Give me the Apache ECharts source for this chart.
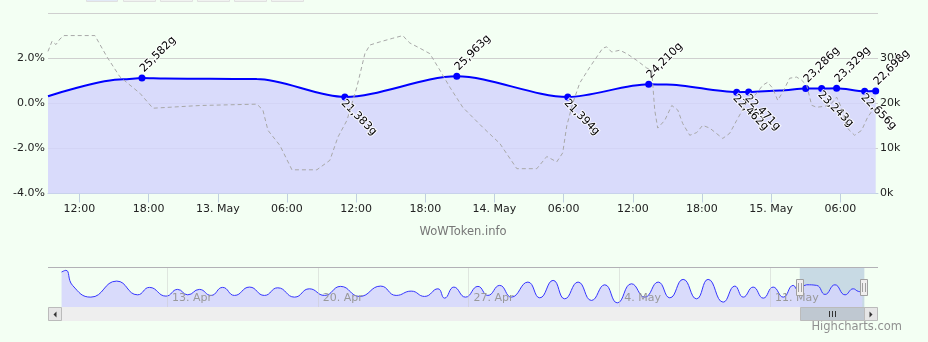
<!DOCTYPE html>
<html>
<head>
<meta charset="utf-8">
<script src="https://cdn.jsdelivr.net/npm/echarts@6/dist/echarts.min.js"></script>
<style>
html,body{margin:0;padding:0;background:#f3fff3;}
#c{width:928px;height:342px;}
</style>
</head>
<body>
<div id="c"></div>
<script>
// ---------------- DATA ----------------
// Main view: hours since 12 May 2016 00:00
const viewStartHour = 9.27;
const viewEndHour = 81.27;
const mainTickHours = [12, 18, 24, 30, 36, 42, 48, 54, 60, 66, 72, 78];

// Token price (gold), right axis
const priceHours  = [9.27, 15.77, 17.42, 19.41, 23.32, 27.39, 35.02, 44.73, 54.36, 61.38, 62.94, 69.01, 70.05, 72.74, 75.00, 76.38, 77.68, 80.11, 81.07];
const priceValues = [21560, 25300, 25582, 25480, 25420, 25350, 21383, 25963, 21394, 24210, 24150, 22462, 22471, 22800, 23286, 23243, 23329, 22656, 22698];
// points carrying a marker + label, and whether the label sits above
const markedIndex = [2, 6, 7, 8, 9, 11, 12, 14, 15, 16, 17, 18];
const labelAbove  = [true, false, true, false, true, false, false, true, false, true, false, true];

// Percent change (%), left axis
const changeHours  = [9.27,9.62,9.96,10.31,10.66,13.34,14.38,15.51,17.25,18.37,22.45,27.39,27.91,28.35,29.39,30.43,32.59,33.72,34.42,35.20,36.06,36.76,37.19,38.06,39.18,40.05,40.40,40.66,41.53,42.39,43.26,44.13,45.25,46.99,48.46,49.94,51.67,52.54,53.40,53.92,54.27,54.79,55.40,56.27,57.39,57.74,58.17,58.87,59.47,60.34,61.21,61.64,61.90,62.16,62.77,63.38,63.90,64.33,64.94,65.54,66.06,66.67,67.80,68.41,69.01,69.88,70.75,71.27,71.70,72.13,72.57,73.00,73.61,74.21,74.65,75.08,75.52,75.95,77.08,77.68,78.20,78.55,79.24,79.85,80.37,80.80,81.24];
const changeValues = [2.3,2.75,2.6,2.85,3.0,3.0,2.06,1.17,0.44,-0.22,-0.1,-0.04,-0.3,-1.2,-1.87,-2.95,-2.95,-2.53,-1.5,-0.76,0.71,2.2,2.58,2.72,2.88,3.0,2.8,2.67,2.44,2.2,1.47,0.71,-0.18,-1.07,-1.78,-2.9,-2.9,-2.36,-2.6,-2.2,-1.0,0.0,0.9,1.6,2.44,2.5,2.27,2.35,2.2,1.9,1.56,1.47,-0.3,-1.1,-0.76,-0.1,-0.3,-0.9,-1.42,-1.3,-0.98,-1.1,-1.56,-1.33,-0.76,0.04,0.44,0.8,0.93,0.67,0.13,0.49,1.11,1.16,1.02,0.8,-0.09,-0.18,-0.1,0.27,-0.31,-1.07,-1.42,-1.2,-0.62,-0.31,-0.2];

// Navigator: days since 11 May 2016 00:00
const navStartDay = -33.53;
const navEndDay = 5.02;
const navTickDays = [-28, -21, -14, -7, 0];
const navDays   = [-32.90,-32.70,-32.39,-31.54,-30.34,-29.37,-28.82,-28.05,-27.51,-27.04,-26.50,-25.96,-25.42,-24.87,-24.17,-23.48,-22.86,-22.08,-21.39,-20.69,-19.94,-19.06,-18.08,-17.36,-16.66,-16.04,-15.42,-15.11,-14.68,-14.14,-13.56,-13.10,-12.55,-12.01,-11.24,-10.69,-10.07,-9.53,-8.91,-8.29,-7.67,-7.09,-6.43,-5.81,-5.19,-4.65,-4.03,-3.41,-2.87,-2.17,-1.63,-1.24,-0.78,-0.31,0.15,0.62,1.08,1.32,1.70,2.17,2.56,3.02,3.49,3.87,4.11,4.29];
const navValues = [32111,32922,25767,20186,27818,21283,24813,20663,23859,21283,23859,20997,24813,20997,24956,20997,24622,20186,24145,20997,25290,20520,25433,20997,23048,20520,24145,19709,24956,20186,25290,20997,25767,20186,27341,19852,28152,19375,27341,18612,26053,17467,26530,20186,27341,19852,28629,19375,28629,17801,25433,20186,24956,19709,24956,20186,25767,23382,26053,25767,21474,26053,21283,24145,22905,22700];

const MONTHS = ['Jan','Feb','Mar','Apr','May','Jun','Jul','Aug','Sep','Oct','Nov','Dec'];

// ---------------- BUILD ----------------
const mainBaseDate = [2016, 4, 12];
const navBaseDate = [2016, 4, 11];
const HOUR = 3600e3, DAY = 24 * HOUR;
const mainBase = new Date(...mainBaseDate).getTime();
const navBase = new Date(...navBaseDate).getTime();
const pad = n => (n < 10 ? '0' : '') + n;
const fmtDate = d => d.getDate() + '. ' + MONTHS[d.getMonth()];
const fmtMain = h => {
  const d = new Date(mainBase + Math.round(h * 60) * 60e3);
  return (d.getHours() === 0 && d.getMinutes() === 0) ? fmtDate(d) : pad(d.getHours()) + ':' + pad(d.getMinutes());
};
const fmtNav = day => fmtDate(new Date(navBase + Math.round(day) * DAY));
const fmtGold = v => String(v).replace(/\B(?=(\d{3})+(?!\d))/g, ',') + 'g';
const mainToNav = h => (mainBase - navBase) / DAY + h / 24;

const FONT = 'DejaVu Sans';
const AREA = { color: 'rgba(212,213,251,0.85)', opacity: 1, origin: 'start' };
const aboveLabel = { show: true, position: 'top', distance: 4, rotate: 45, align: 'left', verticalAlign: 'middle' };
const belowLabel = { show: true, position: 'bottom', distance: 3, rotate: -45, align: 'left', verticalAlign: 'middle', offset: [-3, 0] };

const priceData = priceHours.map((h, i) => {
  const item = { value: [h, priceValues[i]] };
  const k = markedIndex.indexOf(i);
  if (k >= 0) {
    item.symbol = 'circle';
    item.symbolSize = 7;
    item.label = Object.assign({ formatter: fmtGold(priceValues[i]) }, labelAbove[k] ? aboveLabel : belowLabel);
  } else {
    item.symbol = 'none';
  }
  return item;
});
const changeData = changeHours.map((h, i) => [h, changeValues[i]]);
const navData = navDays.map((d, i) => [d, navValues[i]]);

const selStart = mainToNav(viewStartHour), selEnd = mainToNav(viewEndHour);

const chart = echarts.init(document.getElementById('c'), null, { renderer: 'canvas' });
chart.setOption({
  animation: false,
  backgroundColor: '#f3fff3',
  textStyle: { fontFamily: FONT },
  grid: [
    { left: 48, right: 50, top: 13, height: 180.5 },
    { left: 48, right: 50, top: 267, height: 40 }
  ],
  xAxis: [
    {
      type: 'value', gridIndex: 0, min: viewStartHour, max: viewEndHour,
      axisLine: { onZero: false, lineStyle: { color: '#c0d0e0' } },
      axisTick: { show: true, customValues: mainTickHours, length: 9, lineStyle: { color: '#c0d0e0' } },
      axisLabel: { customValues: mainTickHours, formatter: fmtMain, color: '#222', fontSize: 11, fontFamily: FONT, margin: 10 },
      splitLine: { show: false }
    },
    {
      type: 'value', gridIndex: 1, min: navStartDay, max: navEndDay, z: 10,
      axisLine: { show: false, onZero: false },
      axisTick: { show: true, inside: true, length: 40, customValues: navTickDays, lineStyle: { color: 'rgba(200,200,200,0.45)' } },
      axisLabel: { inside: true, customValues: navTickDays, formatter: fmtNav, color: '#999', fontSize: 11, fontFamily: FONT, align: 'left', verticalAlign: 'middle', margin: 9, padding: [0, 0, 0, 5] },
      splitLine: { show: false }
    }
  ],
  yAxis: [
    {
      type: 'value', gridIndex: 0, position: 'left', min: -4, max: 4, interval: 2,
      axisLine: { show: false }, axisTick: { show: false },
      axisLabel: { formatter: v => v.toFixed(1) + '%', showMaxLabel: false, color: '#222', fontSize: 11, fontFamily: FONT, margin: 3, padding: [0, 0, 9, 0] },
      splitLine: { lineStyle: { color: '#cfcfcf' } }
    },
    {
      type: 'value', gridIndex: 0, position: 'right', min: 0, max: 40000, interval: 10000,
      axisLine: { show: false }, axisTick: { show: false },
      axisLabel: { formatter: v => (v / 1000) + 'k', showMaxLabel: false, color: '#222', fontSize: 11, fontFamily: FONT, margin: 2, padding: [0, 0, 9, 0] },
      splitLine: { show: false }
    },
    { type: 'value', gridIndex: 1, min: 15500, max: 34500, show: false }
  ],
  series: [
    {
      type: 'line', name: 'change', xAxisIndex: 0, yAxisIndex: 0, data: changeData,
      showSymbol: false, symbol: 'none',
      lineStyle: { color: '#a8a8a8', width: 1, type: [4, 3] }, z: 4
    },
    {
      type: 'line', name: 'price', xAxisIndex: 0, yAxisIndex: 1, data: priceData,
      smooth: 0.3, smoothMonotone: 'x', showAllSymbol: true,
      lineStyle: { color: '#0000ff', width: 2 }, itemStyle: { color: '#0000ff' },
      areaStyle: AREA,
      label: { color: '#000', fontSize: 11, fontFamily: FONT, textBorderColor: 'rgba(255,255,255,0.85)', textBorderWidth: 2 },
      z: 3
    },
    {
      type: 'line', name: 'navigator', xAxisIndex: 1, yAxisIndex: 2, data: navData,
      smooth: 0.5, symbol: 'none', showSymbol: false,
      lineStyle: { color: '#3535ff', width: 1 },
      areaStyle: AREA,
      markArea: { silent: true, itemStyle: { color: 'rgba(102,133,194,0.3)' }, data: [[{ xAxis: selStart }, { xAxis: selEnd }]] }
    }
  ]
});

// --------- navigator / scrollbar decorations ---------
const sx0 = chart.convertToPixel({ xAxisIndex: 1 }, selStart);
const sx1 = chart.convertToPixel({ xAxisIndex: 1 }, selEnd);
const cx = (sx0 + sx1) / 2;
const handle = e => ([
  { type: 'rect', shape: { x: Math.round(e) - 3.5, y: 279.5, width: 7, height: 16 }, style: { fill: '#f0eeee', stroke: '#a0a0a0', lineWidth: 1 }, z: 110 },
  { type: 'line', shape: { x1: Math.round(e) - 1.5, y1: 283, x2: Math.round(e) - 1.5, y2: 292 }, style: { stroke: '#a0a0a0', lineWidth: 1 }, z: 111 },
  { type: 'line', shape: { x1: Math.round(e) + 1.5, y1: 283, x2: Math.round(e) + 1.5, y2: 292 }, style: { stroke: '#a0a0a0', lineWidth: 1 }, z: 111 }
]);
const rangeBtn = (x, w, fill) => ({ type: 'rect', shape: { x: x + 0.5, y: -20, width: w, height: 21.5 }, style: { fill: fill, stroke: '#e0e0e0', lineWidth: 1 }, z: 100 });

chart.setOption({
  graphic: [
    rangeBtn(86, 31, '#e2e9f6'), rangeBtn(123, 32, '#f0f2f0'), rangeBtn(160, 32, '#f0f2f0'),
    rangeBtn(197, 32, '#f0f2f0'), rangeBtn(234, 32, '#f0f2f0'), rangeBtn(271, 32, '#f0f2f0'),
    { type: 'line', shape: { x1: 48, y1: 267.5, x2: 878, y2: 267.5 }, style: { stroke: '#b2b1b6', lineWidth: 1 }, z: 100 },
    { type: 'rect', shape: { x: 48, y: 307, width: 830, height: 14 }, style: { fill: '#eeeeee' }, z: 100 },
    { type: 'rect', shape: { x: 48.5, y: 307.5, width: 13, height: 13 }, style: { fill: '#e6e6e6', stroke: '#bbbbbb', lineWidth: 1 }, z: 101 },
    { type: 'polygon', shape: { points: [[56.5, 311.5], [56.5, 317.5], [53.5, 314.5]] }, style: { fill: '#333' }, z: 102 },
    { type: 'rect', shape: { x: 864.5, y: 307.5, width: 13, height: 13 }, style: { fill: '#e6e6e6', stroke: '#bbbbbb', lineWidth: 1 }, z: 101 },
    { type: 'polygon', shape: { points: [[869.5, 311.5], [869.5, 317.5], [872.5, 314.5]] }, style: { fill: '#333' }, z: 102 },
    { type: 'rect', shape: { x: Math.round(sx0) + 0.5, y: 307.5, width: Math.round(sx1 - sx0) - 1, height: 13 }, style: { fill: '#bfc8d1', stroke: '#bbbbbb', lineWidth: 1 }, z: 101 },
    { type: 'line', shape: { x1: Math.round(cx) - 2.5, y1: 311, x2: Math.round(cx) - 2.5, y2: 317 }, style: { stroke: '#333', lineWidth: 1 }, z: 102 },
    { type: 'line', shape: { x1: Math.round(cx) + 0.5, y1: 311, x2: Math.round(cx) + 0.5, y2: 317 }, style: { stroke: '#333', lineWidth: 1 }, z: 102 },
    { type: 'line', shape: { x1: Math.round(cx) + 3.5, y1: 311, x2: Math.round(cx) + 3.5, y2: 317 }, style: { stroke: '#333', lineWidth: 1 }, z: 102 },
    ...handle(sx0), ...handle(sx1),
    { type: 'text', x: 463, y: 232, style: { text: 'WoWToken.info', fill: '#777', font: '11.5px "DejaVu Sans"', align: 'center', verticalAlign: 'middle' }, z: 100 },
    { type: 'text', x: 902, y: 327, style: { text: 'Highcharts.com', fill: '#909090', font: '11.5px "DejaVu Sans"', align: 'right', verticalAlign: 'middle' }, z: 100 }
  ]
});
</script>
</body>
</html>
